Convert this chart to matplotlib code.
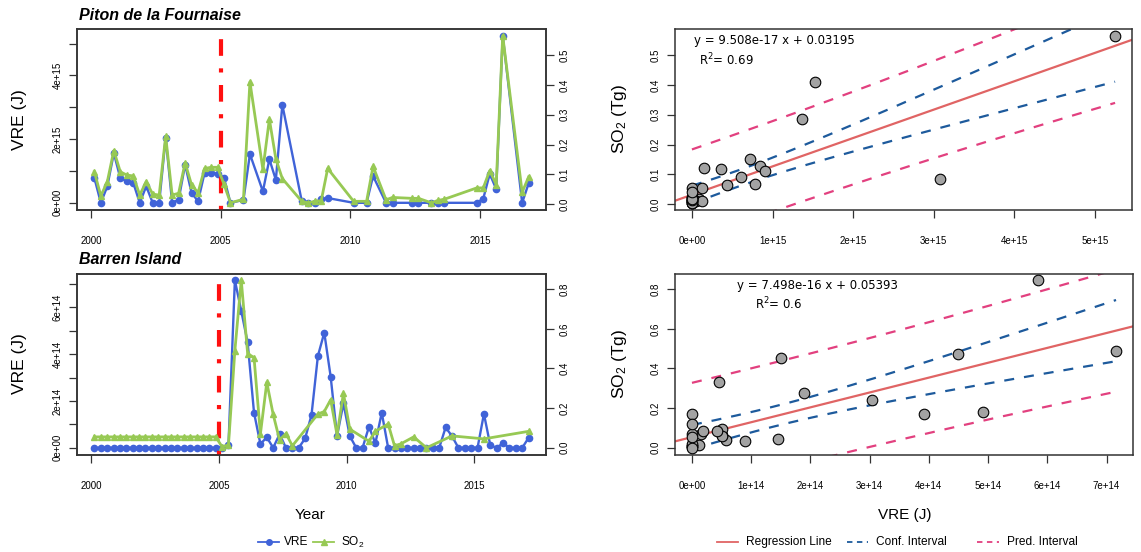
import numpy as np
import matplotlib
matplotlib.use("Agg")
import matplotlib.pyplot as plt
from matplotlib.lines import Line2D

plt.rcParams["font.family"] = ["Liberation Sans", "DejaVu Sans"]
plt.rcParams["mathtext.default"] = "regular"

# ---------------- data ----------------
# Piton de la Fournaise, quarterly (decimal year), VRE in 1e15 J, SO2 in Tg
piton_year = [2000.125, 2000.375, 2000.625, 2000.875, 2001.125, 2001.375, 2001.625, 2001.875,
              2002.125, 2002.375, 2002.625, 2002.875, 2003.125, 2003.375, 2003.625, 2003.875,
              2004.125, 2004.375, 2004.625, 2004.875,
              2005.125, 2005.375, 2005.875, 2006.125, 2006.625, 2006.875, 2007.125, 2007.375,
              2008.125, 2008.375, 2008.625, 2008.875, 2009.125, 2010.125, 2010.625, 2010.875,
              2011.375, 2011.625, 2012.375, 2012.625, 2013.125, 2013.375, 2013.625, 2014.875,
              2015.125, 2015.375, 2015.625, 2015.875, 2016.625, 2016.875]
piton_vre_e15 = [0.78, 0.0, 0.52, 1.56, 0.78, 0.68, 0.63, 0.0, 0.52, 0.0, 0.0, 2.05, 0.0, 0.10,
                 1.20, 0.31, 0.05, 0.94, 0.94, 0.92,
                 0.78, 0.0, 0.09, 1.53, 0.36, 1.37, 0.72, 3.08, 0.05, 0.0, 0.0, 0.12, 0.15,
                 0.0, 0.0, 0.84, 0.0, 0.0, 0.0, 0.0, 0.0, 0.0, 0.0, 0.0, 0.13, 0.91, 0.43,
                 5.25, 0.0, 0.61]
piton_so2 = [0.109, 0.028, 0.076, 0.180, 0.109, 0.098, 0.095, 0.031, 0.076, 0.034, 0.031, 0.228,
             0.031, 0.037, 0.139, 0.065, 0.039, 0.120, 0.124, 0.124,
             0.067, 0.005, 0.017, 0.410, 0.117, 0.285, 0.152, 0.086, 0.010, 0.005, 0.010, 0.012,
             0.120, 0.010, 0.010, 0.127, 0.015, 0.023, 0.020, 0.020, 0.005, 0.013, 0.017, 0.055,
             0.055, 0.113, 0.066, 0.565, 0.040, 0.092]

# Barren Island, quarterly VRE (1e14 J) and SO2 (Tg) on its own dates
barren_vre_year = [2000.125 + 0.25 * k for k in range(69)]
barren_vre_e14 = [0.0] * 20 + [
    0.0, 0.12, 7.16, 5.85, 4.50, 1.50, 0.16, 0.45, 0.0, 0.58, 0.0, 0.0,
    0.0, 0.40, 1.40, 3.92, 4.92, 3.04, 0.50, 1.90, 0.50, 0.0, 0.0, 0.90,
    0.19, 1.50, 0.0, 0.0, 0.0, 0.0, 0.0, 0.0, 0.0, 0.0, 0.0, 0.87,
    0.50, 0.0, 0.0, 0.0, 0.0, 1.45, 0.10, 0.0, 0.20, 0.0, 0.0, 0.0, 0.43]
barren_so2_year = [2000.125 + 0.25 * k for k in range(20)] + [
    2005.125, 2005.375, 2005.625, 2005.875, 2006.125, 2006.375, 2006.625, 2006.875,
    2007.125, 2007.375, 2007.625, 2007.875, 2008.875, 2009.125, 2009.375, 2009.625,
    2009.875, 2010.125, 2010.875, 2011.125, 2011.625, 2011.875, 2012.125, 2012.625,
    2013.125, 2014.125, 2015.375, 2017.125]
barren_so2 = [0.055] * 20 + [
    0.005, 0.015, 0.490, 0.845, 0.475, 0.455, 0.070, 0.330,
    0.168, 0.040, 0.072, 0.010, 0.170, 0.183, 0.242, 0.065,
    0.275, 0.094, 0.033, 0.083, 0.120, 0.010, 0.020, 0.055,
    0.000, 0.060, 0.045, 0.083]

# regression coefficients reported on each scatter panel
piton_fit = (9.508e-17, 0.03195, 0.69)
barren_fit = (7.498e-16, 0.05393, 0.6)

split_year = 2005

BLUE = "#4063D8"
GREEN = "#97C954"
RED_FIT = "#E06464"
CI_COL = "#1D5A9C"
PI_COL = "#E2407F"

W, H = 1141, 552
fig = plt.figure(figsize=(W / 100, H / 100), dpi=100)


def rect(l, r, t, b):
    return [l / W, 1 - b / H, (r - l) / W, (b - t) / H]


def rlim(vals):
    lo, hi = float(np.min(vals)), float(np.max(vals))
    d = 0.04 * (hi - lo)
    return lo - d, hi + d


def style_axes(ax):
    for s in ax.spines.values():
        s.set_linewidth(1.1)
        s.set_color("#333333")
    ax.tick_params(length=6, width=0.9, colors="#333333", labelsize=7, labelcolor="black")


def time_panel(r, t_v, vre, t_s, so2, scale, yticks_major, title):
    ax = fig.add_axes(r)
    style_axes(ax)
    t_v = np.asarray(t_v)
    vre = np.asarray(vre) * scale
    ax.plot(t_v, vre, "-o", color=BLUE, lw=1.7, ms=4.5, zorder=3)
    ax.set_xlim(*rlim(np.concatenate([t_v, np.asarray(t_s)])))
    ax.set_ylim(*rlim(vre))
    ax.set_yticks([v * scale for v in yticks_major])
    ax.set_yticklabels([("%.0e" % (v * scale)) if i % 2 == 0 else ""
                        for i, v in enumerate(yticks_major)],
                       rotation=90, va="center")
    ax.set_xticks([2000, 2005, 2010, 2015])
    ax.tick_params(axis="x", pad=13)
    ax.tick_params(axis="y", pad=4.5)
    ax.set_ylabel("VRE (J)", fontsize=12.5, labelpad=18)
    ax.axvline(split_year, color="#FF1010", lw=3.0, dashes=(1, 3, 4, 3), zorder=5)
    ax.text(0.005, 1.035, title, transform=ax.transAxes, fontsize=11.5,
            fontweight="bold", fontstyle="italic", ha="left", va="bottom")

    ax2 = ax.twinx()
    style_axes(ax2)
    ax2.plot(t_s, so2, "-^", color=GREEN, lw=2.0, ms=5, zorder=4)
    ax2.set_ylim(*rlim(so2))
    return ax, ax2


def t_quantile(df):
    # Cornish-Fisher expansion of the 97.5 % Student-t quantile
    z = 1.959963985
    g1 = (z ** 3 + z) / 4
    g2 = (5 * z ** 5 + 16 * z ** 3 + 3 * z) / 96
    g3 = (3 * z ** 7 + 19 * z ** 5 + 17 * z ** 3 - 15 * z) / 384
    return z + g1 / df + g2 / df ** 2 + g3 / df ** 3


def scatter_panel(r, x, y, fit, xscale, xticks, yticks, eq_pos, r2_pos):
    ax = fig.add_axes(r)
    style_axes(ax)
    x = np.asarray(x, float)
    y = np.asarray(y, float)
    slope, icpt, r2 = fit
    ax.set_xlim(*rlim(x))
    ax.set_ylim(*rlim(y))

    n = len(x)
    resid = y - (icpt + slope * x)
    s = np.sqrt(np.sum(resid ** 2) / (n - 2))
    tq = t_quantile(n - 2)
    xm = x.mean()
    sxx = np.sum((x - xm) ** 2)
    xg = np.linspace(x.min(), x.max(), 200)
    yg = icpt + slope * xg
    se_ci = s * np.sqrt(1 / n + (xg - xm) ** 2 / sxx)
    se_pi = s * np.sqrt(1 + 1 / n + (xg - xm) ** 2 / sxx)

    xl = np.array(ax.get_xlim())
    ax.plot(xl, icpt + slope * xl, color=RED_FIT, lw=1.6, zorder=2)
    for sign in (1, -1):
        ax.plot(xg, yg + sign * tq * se_ci, color=CI_COL, lw=1.6, dashes=(4.5, 4.5), zorder=2)
        ax.plot(xg, yg + sign * tq * se_pi, color=PI_COL, lw=1.6, dashes=(4.5, 4.5), zorder=2)
    ax.set_xlim(*xl)
    ax.scatter(x, y, s=58, facecolor="#A3A3A3", edgecolor="black", linewidths=0.8, zorder=4)

    ax.set_xticks([v * xscale for v in xticks])
    ax.set_xticklabels([("%.0e" % (v * xscale)) for v in xticks])
    ax.set_yticks(yticks)
    ax.set_yticklabels(["%.1f" % v for v in yticks], rotation=90, va="center")
    ax.tick_params(axis="x", pad=13)
    ax.tick_params(axis="y", pad=4.5)
    ax.set_ylabel("SO$_2$ (Tg)", fontsize=12.5, labelpad=15.5)
    ax.text(*eq_pos, "y = %.3e x + %.5f" % (slope, icpt), transform=ax.transAxes,
            fontsize=8.5, family="DejaVu Sans", ha="left", va="center")
    ax.text(*r2_pos, "R$^2$= %g" % r2, transform=ax.transAxes,
            fontsize=8.5, family="DejaVu Sans", ha="left", va="center")
    return ax


# ---------------- time-series panels ----------------
ax_p, ax_p2 = time_panel(rect(77, 546, 29, 209.5), piton_year, piton_vre_e15,
                         piton_year, piton_so2, 1e15, [0, 1, 2, 3, 4, 5],
                         "Piton de la Fournaise")
ax_p2.set_yticks([0.0, 0.1, 0.2, 0.3, 0.4, 0.5])
ax_p2.set_yticklabels(["0.0", "0.1", "0.2", "0.3", "0.4", "0.5"], rotation=90, va="center")

ax_b, ax_b2 = time_panel(rect(77, 546, 273.5, 454.5), barren_vre_year, barren_vre_e14,
                         barren_so2_year, barren_so2, 1e14, [0, 1, 2, 3, 4, 5, 6, 7],
                         "Barren Island")
ax_b2.set_yticks([0.0, 0.2, 0.4, 0.6, 0.8])
ax_b2.set_yticklabels(["0.0", "0.2", "0.4", "0.6", "0.8"], rotation=90, va="center")

# ---------------- scatter panels (post-2005 pairs) ----------------
pv = np.array(piton_vre_e15) * 1e15
pt = np.array(piton_year)
ps = np.array(piton_so2)
mask = pt >= split_year
scatter_panel(rect(675, 1132, 29, 209.5), pv[mask], ps[mask], piton_fit, 1e15,
              [0, 1, 2, 3, 4, 5], [0.0, 0.1, 0.2, 0.3, 0.4, 0.5],
              (0.042, 0.935), (0.052, 0.83))

bv_year = np.array(barren_vre_year)
bv = np.array(barren_vre_e14) * 1e14
bs_year = np.array(barren_so2_year)
bs = np.array(barren_so2)
xs, ys = [], []
for ty, sv in zip(bs_year, bs):
    if ty >= split_year:
        i = np.argmin(np.abs(bv_year - ty))
        xs.append(bv[i])
        ys.append(sv)
scatter_panel(rect(675, 1133, 273.5, 454.5), xs, ys, barren_fit, 1e14,
              [0, 1, 2, 3, 4, 5, 6, 7], [0.0, 0.2, 0.4, 0.6, 0.8],
              (0.135, 0.935), (0.175, 0.83))

# ---------------- shared axis titles and legends ----------------
fig.text(310 / W, 1 - 515 / H, "Year", fontsize=11, ha="center", va="center")
fig.text(905 / W, 1 - 515 / H, "VRE (J)", fontsize=11, ha="center", va="center")

LEG_Y = 1 - 542 / H


def legend_entry(x0, x1, text, text_gap=8, **line_kw):
    xm = (x0 + x1) / 2
    fig.add_artist(Line2D([x0 / W, xm / W, x1 / W], [LEG_Y] * 3,
                          transform=fig.transFigure, **line_kw))
    fig.text((x1 + text_gap) / W, LEG_Y, text, fontsize=8.6, ha="left", va="center")


# time-series legend: line with a marker at its middle
legend_entry(258, 279, "VRE", text_gap=5, color=BLUE, lw=1.3, marker="o", ms=4, markevery=[1])
legend_entry(313, 334, "SO$_2$", text_gap=7, color=GREEN, lw=1.3, marker="^", ms=4,
             markevery=[1])

# regression legend
legend_entry(717, 738, "Regression Line", color=RED_FIT, lw=1.3)
legend_entry(847, 868, "Conf. Interval", color=CI_COL, lw=1.3, dashes=(3, 2.5))
legend_entry(977, 999, "Pred. Interval", color=PI_COL, lw=1.3, dashes=(3, 2.5))

fig.savefig("out.png", dpi=100)
